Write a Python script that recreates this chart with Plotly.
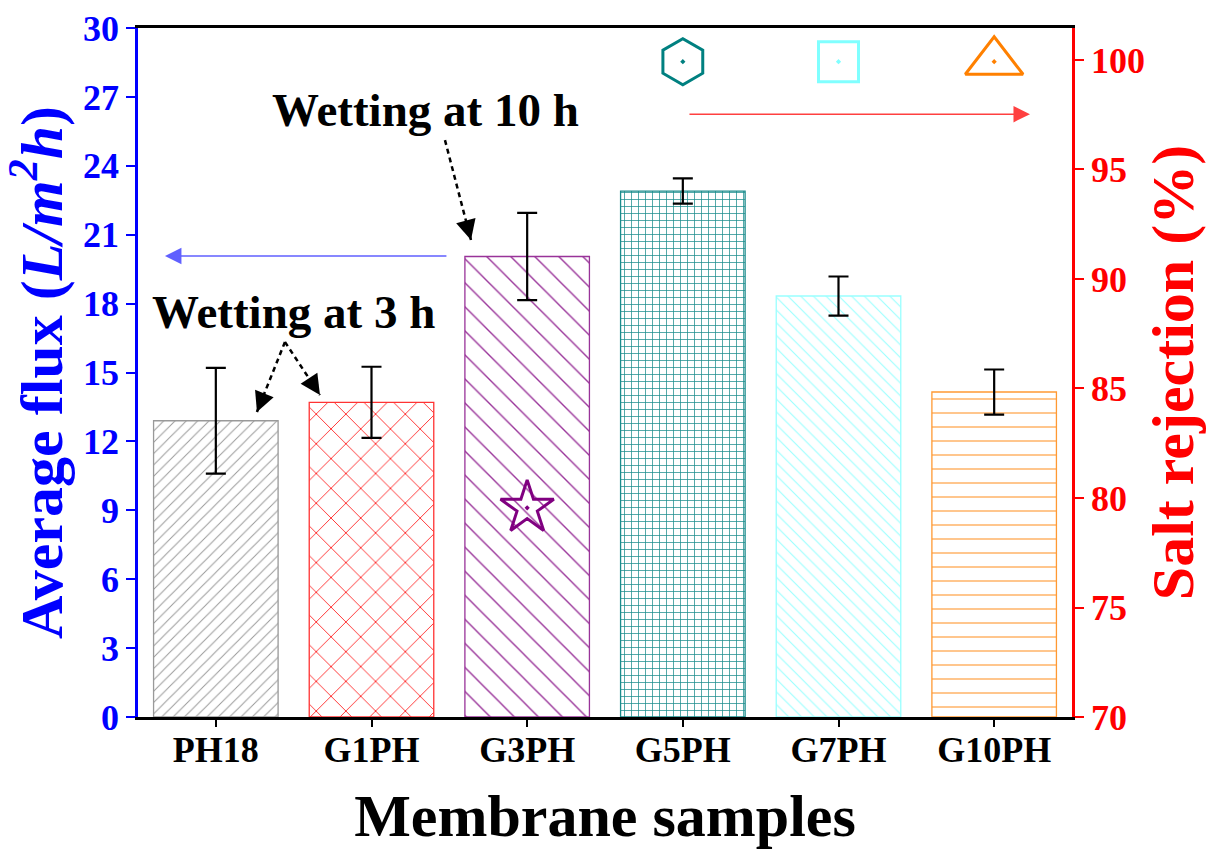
import plotly.graph_objects as go

# ---------------- data ----------------
samples = ["PH18", "G1PH", "G3PH", "G5PH", "G7PH", "G10PH"]
avg_flux = [12.9, 13.7, 20.05, 22.9, 18.33, 14.15]
flux_err = [2.3, 1.55, 1.9, 0.55, 0.85, 0.98]

rej_samples = ["G3PH", "G5PH", "G7PH", "G10PH"]
salt_rejection = [79.55, 99.92, 99.92, 99.92]
rej_symbols = ["star-open-dot", "hexagon-open-dot", "square-open-dot", "triangle-up-open-dot"]
rej_colors = ["#800080", "#008080", "#80FFFF", "#FF8000"]
rej_sizes = [40, 46, 40, 50]

bar_colors = ["#999999", "#FF3333", "#993399", "#1A8C8C", "#99FFFF", "#FF9933"]
bar_patterns = ["/", "x", "\\", "+", "\\", "-"]
pattern_sizes = [8, 21, 17, 7, 9, 14]
pattern_solidity = [0.12, 0.09, 0.08, 0.2, 0.12, 0.08]

flux_ticks = [0, 3, 6, 9, 12, 15, 18, 21, 24, 27, 30]
rej_ticks = [70, 75, 80, 85, 90, 95, 100]

FONT = "Liberation Serif, Times New Roman, serif"

fig = go.Figure()

fig.add_trace(go.Bar(
    x=samples, y=avg_flux, width=0.8,
    marker=dict(
        color="white",
        line=dict(color=bar_colors, width=1.3),
        pattern=dict(shape=bar_patterns, fgcolor=bar_colors, bgcolor="white",
                     size=pattern_sizes, solidity=pattern_solidity,
                     fillmode="overlay", fgopacity=1),
    ),
    error_y=dict(type="data", array=flux_err, visible=True, color="black",
                 thickness=2.2, width=10),
    showlegend=False, yaxis="y",
))

fig.add_trace(go.Scatter(
    x=rej_samples, y=salt_rejection, mode="markers", yaxis="y2",
    marker=dict(symbol=rej_symbols, size=rej_sizes, color=rej_colors, opacity=1,
                line=dict(color=rej_colors, width=3)),
    showlegend=False,
))

tick_font_size = 36

fig.update_layout(
    width=1210, height=849,
    margin=dict(l=138, r=138, t=28, b=132),
    paper_bgcolor="white", plot_bgcolor="white",
    font=dict(family=FONT, weight="bold"),
    xaxis=dict(
        range=[-0.5, 5.5], showline=True, linecolor="black", linewidth=2.5,
        mirror=True, ticks="outside", ticklen=7, tickwidth=2, tickcolor="black",
        ticklabelstandoff=-8,
        tickfont=dict(family=FONT, size=tick_font_size, color="black", weight="bold"),
        title=dict(text="Membrane samples", standoff=30,
                   font=dict(family=FONT, size=60, color="black", weight="bold")),
        showgrid=False, zeroline=False, automargin=False,
    ),
    yaxis=dict(
        range=[0, 30], tickvals=flux_ticks, showline=True, linecolor="#0000FF",
        linewidth=2.5, ticks="outside", ticklen=9, tickwidth=2, tickcolor="#0000FF",
        tickfont=dict(family=FONT, size=tick_font_size, color="#0000FF", weight="bold"),
        title=dict(text="Average flux (<i>L/m<sup>2</sup>h</i>)", standoff=8,
                   font=dict(family=FONT, size=60, color="#0000FF", weight="bold")),
        showgrid=False, zeroline=False, automargin=False,
    ),
    yaxis2=dict(
        range=[70, 101.46], tickvals=rej_ticks, overlaying="y", side="right",
        showline=True, linecolor="#FF0000", linewidth=2.5, ticks="outside",
        ticklen=9, tickwidth=2, tickcolor="#FF0000",
        tickfont=dict(family=FONT, size=tick_font_size, color="#FF0000", weight="bold"),
        title=dict(text="Salt rejection (%)", standoff=8,
                   font=dict(family=FONT, size=60, color="#FF0000", weight="bold")),
        showgrid=False, zeroline=False, automargin=False,
    ),
)

ann_font = dict(family=FONT, size=47, color="black", weight="bold")
fig.add_annotation(x=1.344, y=26.43, xref="x", yref="y", text="Wetting at 10 h",
                   showarrow=False, font=ann_font)
fig.add_annotation(x=0.502, y=17.63, xref="x", yref="y", text="Wetting at 3 h",
                   showarrow=False, font=ann_font)

# direction arrows to axes
fig.add_annotation(x=-0.327, y=20.07, ax=1.491, ay=20.07, xref="x", yref="y",
                   axref="x", ayref="y", text="", showarrow=True, arrowhead=2,
                   arrowsize=2.2, arrowwidth=1.5, arrowcolor="#6060FF")
fig.add_annotation(x=5.23, y=26.25, ax=3.033, ay=26.25, xref="x", yref="y",
                   axref="x", ayref="y", text="", showarrow=True, arrowhead=2,
                   arrowsize=2.2, arrowwidth=1.5, arrowcolor="#FF4040")

# dotted pointer arrows (dashed shaft + arrowhead)
pointers = [
    ((1.472, 25.12), (1.639, 20.77), (-3.6, -13.6)),
    ((0.444, 16.33), (0.264, 13.28), (5.2, -13.0)),
    ((0.444, 16.33), (0.669, 14.02), (-7.7, -11.7)),
]
for (x0, y0), (x1, y1), (ax, ay) in pointers:
    fig.add_shape(type="line", xref="x", yref="y", x0=x0, y0=y0, x1=x1, y1=y1,
                  line=dict(color="black", width=2.5, dash="5px,4px"))
    fig.add_annotation(x=x1, y=y1, xref="x", yref="y", ax=ax, ay=ay, text="",
                       showarrow=True, arrowhead=2, arrowsize=1.6,
                       arrowwidth=2.5, arrowcolor="black")

fig.write_html("out.html")
